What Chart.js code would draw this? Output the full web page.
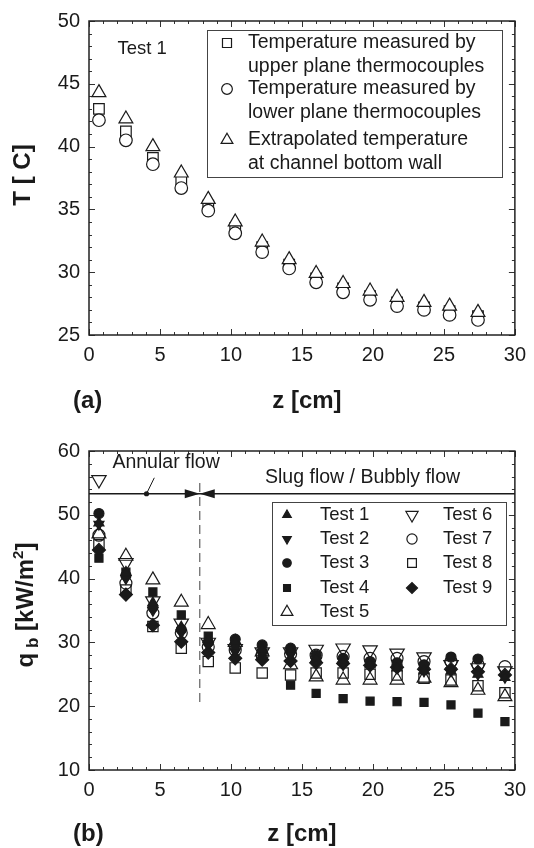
<!DOCTYPE html>
<html>
<head>
<meta charset="utf-8">
<script src="https://cdn.jsdelivr.net/npm/chart.js@4.4.0/dist/chart.umd.min.js"></script>
<style>
  html, body { margin: 0; padding: 0; background: #fff; }
  #wrap { position: relative; width: 534px; height: 848px; }
  canvas { position: absolute; left: 0; }
  #chartA { top: 0; }
  #chartB { top: 425px; }
</style>
</head>
<body>
<div id="wrap">
  <canvas id="chartA" width="534" height="425"></canvas>
  <canvas id="chartB" width="534" height="423"></canvas>
</div>
<script>
// --- panel (a): Test 1 wall temperatures ---
const zA = [0.7, 2.6, 4.5, 6.5, 8.4, 10.3, 12.2, 14.1, 16.0, 17.9, 19.8, 21.7, 23.6, 25.4, 27.4];
const upperPlane = [43.0, 41.2, 39.1, 37.3, 35.3, 33.5, 32.0, 30.6, 29.5, 28.7, 28.1, 27.6, 27.2, 26.9, 26.5];
const lowerPlane = [42.1, 40.5, 38.6, 36.7, 34.9, 33.1, 31.6, 30.3, 29.2, 28.4, 27.8, 27.3, 27.0, 26.6, 26.2];
const bottomWall = [44.3, 42.2, 40.0, 37.9, 35.8, 34.0, 32.4, 31.0, 29.9, 29.1, 28.5, 28.0, 27.6, 27.3, 26.8];
const tempTicks = [25, 30, 35, 40, 45, 50];

// --- panel (b): boiling heat flux, tests 1-9 ---
const zB = [0.7, 2.6, 4.5, 6.5, 8.4, 10.3, 12.2, 14.2, 16.0, 17.9, 19.8, 21.7, 23.6, 25.5, 27.4, 29.3];
const test1 = [48.7, 41.0, 36.2, 32.4, 30.5, 30.2, 29.0, 28.8, 27.5, 27.0, 26.5, 26.0, 25.5, 25.5, 25.0, 24.5];
const test2 = [48.5, 40.0, 35.0, 31.5, 29.5, 28.5, 28.5, 28.0, 27.0, 26.5, 26.5, 26.0, 25.5, 25.5, 25.0, 24.5];
const test3 = [50.2, 40.5, 35.5, 32.0, 30.0, 30.5, 29.6, 29.1, 28.0, 27.5, 27.0, 26.8, 26.5, 27.7, 27.4, null];
const test4 = [43.2, 41.0, 37.9, 34.3, 31.0, 29.5, 28.0, 23.3, 22.0, 21.2, 20.8, 20.7, 20.6, 20.2, 18.9, 17.6];
const test5 = [47.0, 43.5, 39.8, 36.3, 32.8, 30.0, 28.5, 26.5, 24.6, 24.1, 24.1, 24.1, 24.4, 23.7, 22.5, 21.5];
const test6 = [55.5, 42.5, 36.5, 33.0, 30.0, 29.0, 28.5, 28.5, 28.9, 29.1, 28.8, 28.3, 27.7, 26.5, 26.0, 25.5];
const test7 = [46.8, 39.3, 34.6, 31.5, 29.3, 28.8, 28.0, 28.2, 28.0, 27.8, 27.5, 27.5, 27.0, 27.0, 26.5, 26.2];
const test8 = [45.3, 38.2, 32.5, 29.1, 27.0, 26.0, 25.2, 24.9, 25.2, 25.2, 25.0, 24.9, 24.4, 24.1, 23.2, 22.1];
const test9 = [44.5, 37.5, 32.7, 30.1, 28.4, 27.5, 27.3, 27.1, 26.8, 26.7, 26.4, 26.1, 25.8, 25.8, 25.4, 24.9];
const fluxTicks = [10, 20, 30, 40, 50, 60];
const zTicks = [0, 5, 10, 15, 20, 25, 30];

// flow regime markers (data units)
const regimeZ = 7.8;
const regimeQ = 53.3;

const fontFam = '"Liberation Sans", Arial, Helvetica, sans-serif';
const ink = '#1a1a1a';

const pts = (xs, ys) => xs.map((x, i) => ({x: x, y: ys[i]})).filter(p => p.y !== null);

function marker(label, data, style, r, filled, rot, order) {
  return {
    label: label, data: data, showLine: false,
    pointStyle: style, pointRadius: r, pointHoverRadius: r,
    pointRotation: rot || 0,
    pointBackgroundColor: filled === true ? ink : (filled === 'white' ? '#fff' : 'rgba(255,255,255,0)'),
    pointBorderColor: ink, pointBorderWidth: 1.2,
    order: order
  };
}

function line(ctx, x1, y1, x2, y2) {
  ctx.beginPath(); ctx.moveTo(x1, y1); ctx.lineTo(x2, y2); ctx.stroke();
}

// frame with inward major/minor ticks on all four sides
function drawFrame(chart, yMajor, yMinor) {
  const ctx = chart.ctx, a = chart.chartArea, sx = chart.scales.x, sy = chart.scales.y;
  ctx.save();
  ctx.strokeStyle = '#333';
  ctx.lineWidth = 1;
  for (let v = sx.min; v <= sx.max + 1e-9; v += 1) {
    const px = Math.round(sx.getPixelForValue(v)) + 0.5;
    const len = (v % 5 === 0) ? 6 : 3;
    line(ctx, px, a.bottom, px, a.bottom - len);
    line(ctx, px, a.top, px, a.top + len);
  }
  for (let v = sy.min; v <= sy.max + 1e-9; v += yMinor) {
    const py = Math.round(sy.getPixelForValue(v)) + 0.5;
    const len = (v % yMajor === 0) ? 6 : 3;
    line(ctx, a.left, py, a.left + len, py);
    line(ctx, a.right, py, a.right - len, py);
  }
  ctx.strokeStyle = '#222';
  ctx.lineWidth = 1.5;
  ctx.strokeRect(a.left, a.top, a.right - a.left, a.bottom - a.top);
  ctx.restore();
}

function drawRotated(ctx, cx, cy, parts) {
  ctx.save();
  ctx.translate(cx, cy);
  ctx.rotate(-Math.PI / 2);
  let total = 0;
  parts.forEach(p => { ctx.font = 'bold ' + p.size + 'px ' + fontFam; p.w = ctx.measureText(p.text).width; total += p.w; });
  let x = -total / 2;
  ctx.fillStyle = ink;
  ctx.textAlign = 'left';
  ctx.textBaseline = 'alphabetic';
  parts.forEach(p => {
    ctx.font = 'bold ' + p.size + 'px ' + fontFam;
    ctx.fillText(p.text, x, 8 + (p.shift || 0));
    x += p.w;
  });
  ctx.restore();
}

function text(ctx, s, x, y, size, bold, align) {
  ctx.font = (bold ? 'bold ' : '') + size + 'px ' + fontFam;
  ctx.fillStyle = ink;
  ctx.textAlign = align || 'left';
  ctx.textBaseline = 'middle';
  ctx.fillText(s, x, y);
}

function legendMarker(ctx, ds, x, y, scale) {
  ctx.save();
  ctx.fillStyle = ds.pointBackgroundColor;
  ctx.strokeStyle = ds.pointBorderColor;
  ctx.lineWidth = ds.pointBorderWidth;
  Chart.helpers.drawPoint(ctx, {
    pointStyle: ds.pointStyle, radius: ds.pointRadius * scale,
    rotation: ds.pointRotation, borderWidth: ds.pointBorderWidth
  }, x, y);
  ctx.restore();
}

function axes(yTicks, yMin, yMax, xAxisH) {
  const tickFont = {family: fontFam, size: 20};
  return {
    x: {
      type: 'linear', min: 0, max: 30,
      grid: {display: false, drawTicks: false}, border: {display: false},
      ticks: {color: ink, font: tickFont, padding: 8, maxRotation: 0, autoSkip: false},
      afterBuildTicks: s => { s.ticks = zTicks.map(v => ({value: v})); },
      afterFit: s => { s.height = xAxisH; }
    },
    y: {
      type: 'linear', min: yMin, max: yMax,
      grid: {display: false, drawTicks: false}, border: {display: false},
      ticks: {color: ink, font: tickFont, padding: 9, autoSkip: false},
      afterBuildTicks: s => { s.ticks = yTicks.map(v => ({value: v})); },
      afterFit: s => { s.width = 89; }
    }
  };
}

const baseOpts = {
  responsive: false, animation: false,
  plugins: {legend: {display: false}, tooltip: {enabled: false}}
};

// ---------- panel (a) ----------
new Chart(document.getElementById('chartA'), {
  type: 'scatter',
  data: {
    datasets: [
      marker('Temperature measured by|upper plane thermocouples', pts(zA, upperPlane), 'rect', 7.5, 'white', 0, 3),
      marker('Temperature measured by|lower plane thermocouples', pts(zA, lowerPlane), 'circle', 6.3, 'white', 0, 2),
      marker('Extrapolated temperature|at channel bottom wall', pts(zA, bottomWall), 'triangle', 8, 'white', 0, 1)
    ]
  },
  options: Object.assign({}, baseOpts, {
    layout: {padding: {left: 0, right: 15, top: 15, bottom: 0}},
    scales: axes(tempTicks, 25, 50, 90)
  }),
  plugins: [{
    id: 'decorA',
    beforeDatasetsDraw(chart) { drawFrame(chart, 5, 1); },
    afterDatasetsDraw(chart) {
      const ctx = chart.ctx, a = chart.chartArea, sx = chart.scales.x, sy = chart.scales.y;
      text(ctx, 'Test 1', sx.getPixelForValue(2.0), sy.getPixelForValue(47.8), 18.5);
      // legend box
      ctx.save();
      ctx.strokeStyle = '#444'; ctx.lineWidth = 1;
      ctx.strokeRect(207.5, 30.5, 295, 147);
      ctx.restore();
      const rows = [43, 89, 140];
      chart.data.datasets.forEach((ds, i) => {
        legendMarker(ctx, ds, 227, rows[i], 0.85);
        const lines = ds.label.split('|');
        text(ctx, lines[0], 248, rows[i], 19.5);
        text(ctx, lines[1], 248, rows[i] + 24, 19.5);
      });
      drawRotated(ctx, 22, 175, [{text: 'T [ C]', size: 24}]);
      text(ctx, '(a)', 73, 401, 24, true);
      text(ctx, 'z [cm]', (a.left + a.right) / 2 + 5, 401, 24, true, 'center');
    }
  }]
});

// ---------- panel (b) ----------
new Chart(document.getElementById('chartB'), {
  type: 'scatter',
  data: {
    datasets: [
      marker('Test 1', pts(zB, test1), 'triangle', 5.8, true, 0, 1),
      marker('Test 2', pts(zB, test2), 'triangle', 5.8, true, 180, 1),
      marker('Test 3', pts(zB, test3), 'circle', 5, true, 0, 1),
      marker('Test 4', pts(zB, test4), 'rect', 5.7, true, 0, 1),
      marker('Test 5', pts(zB, test5), 'triangle', 8, false, 0, 2),
      marker('Test 6', pts(zB, test6), 'triangle', 8.3, false, 180, 2),
      marker('Test 7', pts(zB, test7), 'circle', 6, false, 0, 2),
      marker('Test 8', pts(zB, test8), 'rect', 7.3, false, 0, 2),
      marker('Test 9', pts(zB, test9), 'rectRot', 6.5, true, 0, 1)
    ]
  },
  options: Object.assign({}, baseOpts, {
    layout: {padding: {left: 0, right: 15, top: 26, bottom: 0}},
    scales: axes(fluxTicks, 10, 60, 78)
  }),
  plugins: [{
    id: 'decorB',
    beforeDatasetsDraw(chart) {
      drawFrame(chart, 10, 2);
      const ctx = chart.ctx, a = chart.chartArea, sx = chart.scales.x, sy = chart.scales.y;
      const xv = sx.getPixelForValue(regimeZ), yl = sy.getPixelForValue(regimeQ);
      ctx.save();
      // regime boundary
      ctx.strokeStyle = '#777'; ctx.lineWidth = 1.4; ctx.setLineDash([9, 5]);
      line(ctx, xv, sy.getPixelForValue(55), xv, sy.getPixelForValue(20));
      ctx.setLineDash([]);
      ctx.strokeStyle = ink; ctx.lineWidth = 1.3;
      line(ctx, a.left, yl, a.right, yl);
      ctx.fillStyle = ink;
      ctx.beginPath(); ctx.moveTo(xv, yl); ctx.lineTo(xv - 15, yl - 4.5); ctx.lineTo(xv - 15, yl + 4.5); ctx.closePath(); ctx.fill();
      ctx.beginPath(); ctx.moveTo(xv, yl); ctx.lineTo(xv + 15, yl - 4.5); ctx.lineTo(xv + 15, yl + 4.5); ctx.closePath(); ctx.fill();
      // leader from label to dot
      const dx = sx.getPixelForValue(4.05);
      ctx.beginPath(); ctx.arc(dx, yl, 2.6, 0, Math.PI * 2); ctx.fill();
      ctx.lineWidth = 1;
      line(ctx, dx, yl, sx.getPixelForValue(4.6), sy.getPixelForValue(55.8));
      ctx.restore();
      text(ctx, 'Annular flow', sx.getPixelForValue(1.65), sy.getPixelForValue(58.1), 19.5);
      text(ctx, 'Slug flow / Bubbly flow', sx.getPixelForValue(12.4), sy.getPixelForValue(55.9), 19.5);
    },
    afterDatasetsDraw(chart) {
      const ctx = chart.ctx, a = chart.chartArea;
      ctx.save();
      ctx.fillStyle = '#fff';
      ctx.fillRect(272, 77, 234, 123);
      ctx.strokeStyle = '#444'; ctx.lineWidth = 1;
      ctx.strokeRect(272.5, 77.5, 234, 123);
      ctx.restore();
      const rowY = [90, 114, 138, 163, 187];
      chart.data.datasets.forEach((ds, i) => {
        const col = i < 5 ? 0 : 1, row = i < 5 ? i : i - 5;
        legendMarker(ctx, ds, col ? 412 : 287, rowY[row], 0.85);
        text(ctx, ds.label, col ? 443 : 320, rowY[row], 18.5);
      });
      drawRotated(ctx, 25, 180, [
        {text: 'q', size: 24},
        {text: ' b', size: 17, shift: 5},
        {text: ' [kW/m', size: 24},
        {text: '2', size: 15, shift: -10},
        {text: ']', size: 24}
      ]);
      text(ctx, '(b)', 73, 409, 24, true);
      text(ctx, 'z [cm]', (a.left + a.right) / 2, 409, 24, true, 'center');
    }
  }]
});
</script>
</body>
</html>
